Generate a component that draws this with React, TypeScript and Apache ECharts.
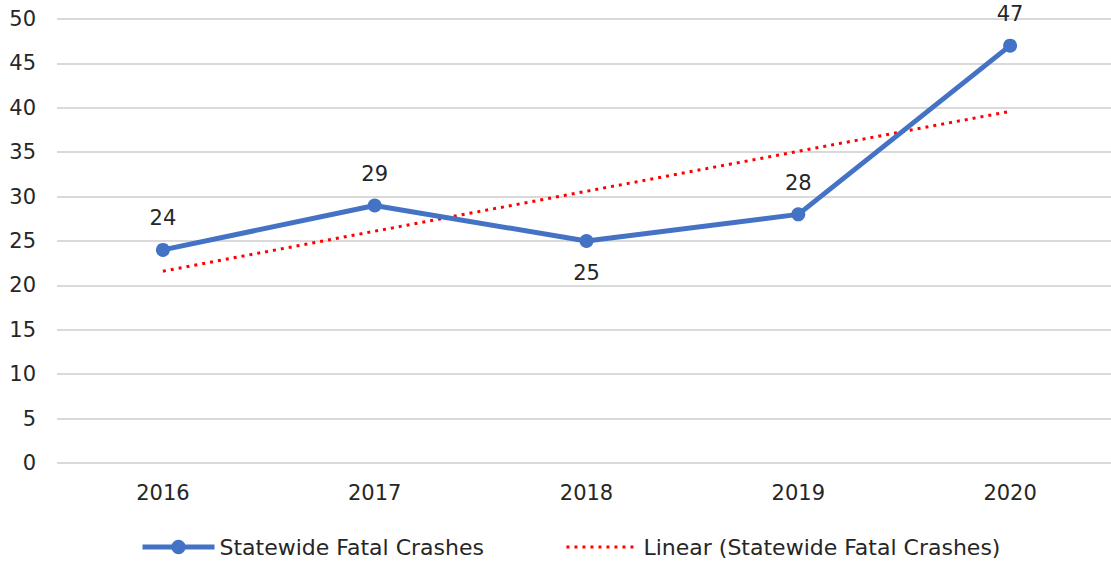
import React, { useEffect, useRef } from "react";
import * as echarts from "echarts";

const years = ["2016", "2017", "2018", "2019", "2020"];
const fatalCrashes = [24, 29, 25, 28, 47];
const linearTrend = [21.6, 26.1, 30.6, 35.1, 39.6];
const labelPositions = ["top", "top", "bottom", "top", "top"];
const seriesNames = ["Statewide Fatal Crashes", "Linear (Statewide Fatal Crashes)"];

const FONT = "'DejaVu Sans', sans-serif";
const TEXT = "#262626";
const FS = 21;

export default function App() {
  const ref = useRef<HTMLDivElement>(null);
  useEffect(() => {
    if (!ref.current) return;
    const chart = echarts.init(ref.current, null, { renderer: "svg" });
    chart.setOption({
      animation: false,
      textStyle: { fontFamily: FONT },
      grid: { left: 57, right: 0, top: 19, bottom: 102, containLabel: false },
      xAxis: {
        type: "category",
        data: years,
        boundaryGap: true,
        axisLine: { show: false },
        axisTick: { show: false },
        axisLabel: { color: TEXT, fontSize: FS, fontFamily: FONT, margin: 19 },
      },
      yAxis: {
        type: "value",
        min: 0,
        max: 50,
        interval: 5,
        axisLine: { show: false },
        axisTick: { show: false },
        axisLabel: { color: TEXT, fontSize: FS, fontFamily: FONT, margin: 21 },
        splitLine: { lineStyle: { color: "#d9d9d9", width: 2 } },
      },
      legend: {
        bottom: 2,
        left: 135,
        itemWidth: 72,
        itemHeight: 18,
        itemGap: 81,
        textStyle: { color: TEXT, fontSize: 22, fontFamily: FONT },
        data: [
          { name: seriesNames[0], lineStyle: { width: 5 } },
          {
            name: seriesNames[1],
            itemStyle: { color: "transparent", opacity: 0, borderWidth: 0 },
            lineStyle: { width: 3, type: [3, 5], color: "#FF0000" },
          },
        ],
      },
      series: [
        {
          name: seriesNames[0],
          type: "line",
          data: fatalCrashes.map((v, i) => ({
            value: v,
            label: { position: labelPositions[i] },
          })),
          symbol: "circle",
          symbolSize: 14,
          lineStyle: { color: "#4472C4", width: 5 },
          itemStyle: { color: "#4472C4" },
          label: {
            show: true,
            color: TEXT,
            fontSize: FS,
            fontFamily: FONT,
            distance: 14,
          },
          z: 3,
        },
        {
          name: seriesNames[1],
          type: "line",
          data: linearTrend,
          symbol: "none",
          lineStyle: { color: "#FF0000", width: 3, type: [3, 5] },
          itemStyle: { color: "#FF0000" },
          z: 2,
        },
      ],
    });
    return () => chart.dispose();
  }, []);
  return (
    <div style={{ position: "absolute", left: 0, top: 0, width: 1111, height: 565, overflow: "hidden" }}>
      <div ref={ref} style={{ width: 1116, height: 565 }} />
    </div>
  );
}
